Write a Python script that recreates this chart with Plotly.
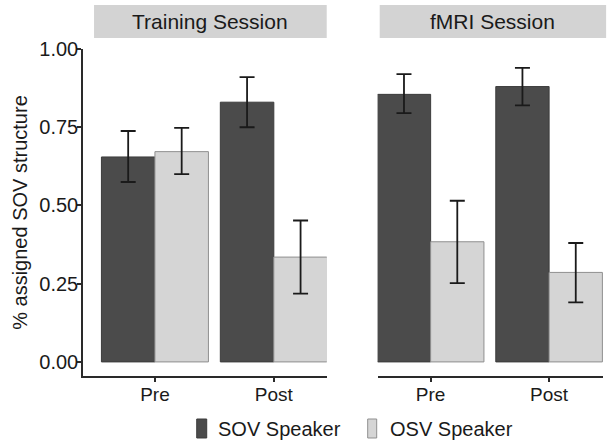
import plotly.graph_objects as go

sessions = ["Training Session", "fMRI Session"]
phases = ["Pre", "Post"]
speakers = ["SOV Speaker", "OSV Speaker"]

# values per session: [Pre, Post]
sov_mean = {"Training Session": [0.655, 0.830], "fMRI Session": [0.855, 0.880]}
sov_upper = {"Training Session": [0.738, 0.910], "fMRI Session": [0.920, 0.940]}
sov_lower = {"Training Session": [0.575, 0.750], "fMRI Session": [0.795, 0.820]}

osv_mean = {"Training Session": [0.672, 0.335], "fMRI Session": [0.384, 0.286]}
osv_upper = {"Training Session": [0.748, 0.452], "fMRI Session": [0.515, 0.380]}
osv_lower = {"Training Session": [0.600, 0.218], "fMRI Session": [0.252, 0.190]}

y_ticks = [0.0, 0.25, 0.5, 0.75, 1.0]
y_ticklabels = ["0.00", "0.25", "0.50", "0.75", "1.00"]

DARK = "#4b4b4b"
LIGHT = "#d5d5d5"
FONT = "Liberation Sans"
TXT = "#1a1a1a"

fig = go.Figure()
axes = ["x", "x2"]
for s, xa in zip(sessions, axes):
    for name, mean, up, lo, col, line in [
        (speakers[0], sov_mean, sov_upper, sov_lower, DARK, "#3c3c3c"),
        (speakers[1], osv_mean, osv_upper, osv_lower, LIGHT, "#8f8f8f"),
    ]:
        m = mean[s]
        fig.add_trace(go.Bar(
            x=phases, y=m, name=name, xaxis=xa, yaxis="y",
            marker=dict(color=col, line=dict(color=line, width=1)),
            error_y=dict(type="data", symmetric=False,
                         array=[u - v for u, v in zip(up[s], m)],
                         arrayminus=[v - l for v, l in zip(m, lo[s])],
                         color=TXT, thickness=1.8, width=7.5),
            showlegend=False,
        ))

axis_common = dict(type="category", categoryorder="array", categoryarray=phases,
                   showline=True, linecolor="#2a2a2a", linewidth=1.5,
                   ticks="outside", ticklen=4, tickwidth=1.5, tickcolor="#2a2a2a",
                   tickfont=dict(family=FONT, size=19, color=TXT),
                   ticklabelstandoff=-4,
                   showgrid=False, zeroline=False, anchor="y", fixedrange=True)

fig.update_layout(
    width=608, height=441,
    margin=dict(l=83, r=5, t=49, b=65, autoexpand=False),
    paper_bgcolor="white", plot_bgcolor="white",
    barmode="group", bargap=0.1, bargroupgap=0.0,
    font=dict(family=FONT, color=TXT),
    xaxis=dict(domain=[0, 0.4687], range=[-0.605, 1.445], **axis_common),
    xaxis2=dict(domain=[0.5667, 1.0], range=[-0.447, 1.455], **axis_common),
    yaxis=dict(range=[-0.045, 1.0], tickvals=y_ticks, ticktext=y_ticklabels,
               showline=True, linecolor="#2a2a2a", linewidth=1.5,
               ticks="outside", ticklen=4, tickwidth=1.5, tickcolor="#2a2a2a",
               tickfont=dict(family=FONT, size=20, color=TXT),
               ticklabelstandoff=-5, fixedrange=True,
               showgrid=False, zeroline=False, anchor="x",
               title=dict(text="% assigned SOV structure", standoff=6,
                          font=dict(family=FONT, size=20, color=TXT))),
)

# facet strips
strips = [(0.0212, 0.4687, 0.2448, sessions[0]), (0.5706, 1.006, 0.788, sessions[1])]
for x0, x1, xc, label in strips:
    fig.add_shape(type="rect", xref="paper", yref="paper", x0=x0, x1=x1,
                  y0=1.0336, y1=1.1346, fillcolor="#d3d3d3", line=dict(width=0),
                  layer="below")
    fig.add_annotation(xref="paper", yref="paper", x=xc, y=1.084, text=label,
                       showarrow=False, xanchor="center", yanchor="middle",
                       font=dict(family=FONT, size=21, color=TXT))

# legend
legend_items = [(0.2187, 0.2379, 0.2563, speakers[0], DARK, "#3c3c3c"),
                (0.5475, 0.5648, 0.5856, speakers[1], LIGHT, "#8f8f8f")]
for x0, x1, xt, label, col, lc in legend_items:
    fig.add_shape(type="rect", xref="paper", yref="paper", x0=x0, x1=x1,
                  y0=-0.1896, y1=-0.1315, fillcolor=col, line=dict(color=lc, width=1))
    fig.add_annotation(xref="paper", yref="paper", x=xt, y=-0.1606, text=label,
                       showarrow=False, xanchor="left", yanchor="middle",
                       font=dict(family=FONT, size=20, color=TXT))

fig.write_html("out.html", config={"displayModeBar": False},
               post_script="document.body.style.margin='0';document.body.style.padding='0';")
